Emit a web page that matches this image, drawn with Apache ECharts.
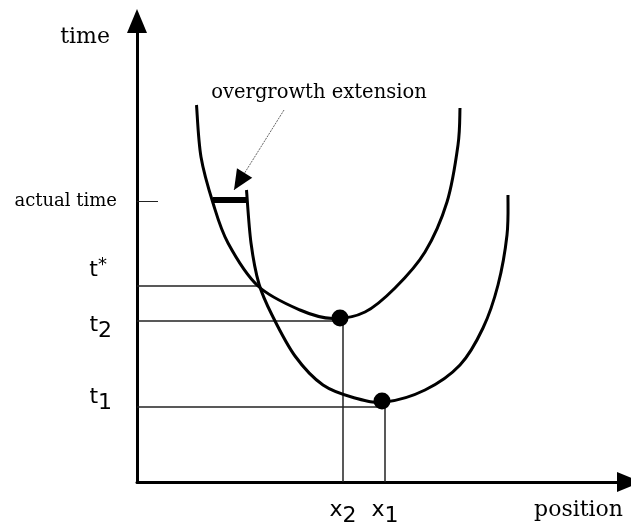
<!DOCTYPE html>
<html><head><meta charset="utf-8">
<script src="https://cdn.jsdelivr.net/npm/echarts@6/dist/echarts.min.js"></script>
<style>html,body{margin:0;padding:0;background:#fff}#c{width:631px;height:524px}</style>
</head><body><div id="c"></div>
<script>
// Upper curve (minimum at x2, t2): position / time
const curve2Pos  = [11.9, 12.8, 15.2, 18.2, 24.2, 32.6, 39.2, 45.6, 51.6, 57.6, 62, 64.2, 64.6];
const curve2Time = [75.4, 65, 55.8, 47.8, 39.2, 34.4, 32.7, 34, 38.8, 46, 56, 67.4, 74.8];
// Lower curve (minimum at x1, t1)
const curve1Pos  = [21.9, 22.8, 24.4, 27, 31.6, 37.2, 43.6, 49.6, 57.6, 64.6, 69.2, 72.2, 74, 74.2];
const curve1Time = [58.4, 47.8, 39.6, 33.4, 25.2, 19.4, 16.8, 16, 18.4, 23.4, 30.8, 39.4, 49.4, 57.4];
// Minimum points (dots)
const minPos  = [40.6, 49];
const minTime = [32.8, 16.2];
// Tick labels
const yTickLabels = ['actual time', 't*', 't2', 't1'];
const yTickValues = [56.2, 39.2, 32.2, 15];
const xTickLabels = ['x2', 'x1'];
const xTickValues = [41.2, 49.6];
const tStarPos = 24.2;               // where the curves cross
// Overgrowth extension at actual time
const extensionPos = [15.2, 22];
const extensionTime = 56.4;
// Annotation
const annotationText = 'overgrowth extension';
const annotationTextAt = [36.4, 77.8];
const annotationArrowFrom = [29.4, 74.4];
const annotationArrowTo = [19.4, 58.4];

const chart = echarts.init(document.getElementById('c'), null, {renderer: 'canvas'});
const zip = (a, b) => a.map((v, i) => [v, b[i]]);
const serif = 'DejaVu Serif';
const sans = 'DejaVu Sans';
const ink = '#000';
const rich = {
  b: {fontFamily: sans, fontSize: 22, color: ink},
  sub: {fontFamily: sans, fontSize: 22, color: ink, padding: [12, 0, 0, 0]},
  sup: {fontFamily: sans, fontSize: 18, color: ink, padding: [0, 0, 10, 0]},
  w: {fontFamily: serif, fontSize: 18, color: ink}
};
function fmt(s) {
  if (s.length > 3) return '{w|' + s + '}';
  if (s[1] === '*') return '{b|' + s[0] + '}{sup|*}';
  return '{b|' + s[0] + '}{sub|' + s[1] + '}';
}
const yLabelStyle = {
  'actual time': {distance: 20, offset: [0, 0]},
  't*': {distance: 30, offset: [0, -16]},
  't2': {distance: 25, offset: [0, 4]},
  't1': {distance: 25, offset: [0, -10]}
};
const thin = {color: '#222', width: 1.5};
const opaque = {opacity: 1, color: ink};

// Smooth curve through the data points (Catmull-Rom), drawn via the axes' coordinate mapping
function curveSeries(pos, time) {
  const pts = zip(pos, time);
  return {
    type: 'custom', data: pts, encode: {x: 0, y: 1}, silent: true, z: 3,
    renderItem: function (params, api) {
      if (params.dataIndex !== 0) return null;
      const P = pts.map(p => api.coord(p));
      let d = 'M' + P[0][0] + ' ' + P[0][1];
      for (let i = 0; i < P.length - 1; i++) {
        const p0 = P[i - 1] || P[i], p1 = P[i], p2 = P[i + 1], p3 = P[i + 2] || P[i + 1];
        const c1x = p1[0] + (p2[0] - p0[0]) / 6, c1y = p1[1] + (p2[1] - p0[1]) / 6;
        const c2x = p2[0] - (p3[0] - p1[0]) / 6, c2y = p2[1] - (p3[1] - p1[1]) / 6;
        d += ' C' + c1x + ' ' + c1y + ' ' + c2x + ' ' + c2y + ' ' + p2[0] + ' ' + p2[1];
      }
      return {type: 'path', shape: {pathData: d},
              style: {fill: null, stroke: ink, lineWidth: 3, lineJoin: 'round'}};
    }
  };
}

const guideLines = [
  [[0, yTickValues[1]], [tStarPos, yTickValues[1]]],
  [[0, yTickValues[2]], [xTickValues[0], yTickValues[2]]],
  [[0, yTickValues[3]], [xTickValues[1], yTickValues[3]]],
  [[xTickValues[0], 0], [xTickValues[0], yTickValues[2]]],
  [[xTickValues[1], 0], [xTickValues[1], yTickValues[3]]]
];

const series = [];
guideLines.forEach(g => series.push({
  type: 'line', data: g, symbol: 'none', lineStyle: thin, silent: true, z: 1
}));
series.push(curveSeries(curve2Pos, curve2Time));
series.push(curveSeries(curve1Pos, curve1Time));
series.push({
  type: 'line', data: extensionPos.map(p => [p, extensionTime]), symbol: 'none',
  lineStyle: {color: ink, width: 6, cap: 'butt'}, z: 4
});
series.push({
  type: 'scatter', data: zip(minPos, minTime), symbol: 'circle', symbolSize: 17,
  itemStyle: opaque, z: 5
});
// y tick labels
series.push({
  type: 'scatter', symbolSize: 0, silent: true, z: 6, itemStyle: opaque,
  data: yTickLabels.map((s, i) => ({
    value: [0, yTickValues[i]],
    label: {show: true, position: 'left', distance: yLabelStyle[s].distance, offset: yLabelStyle[s].offset,
            formatter: fmt(s), rich: rich, opacity: 1}
  }))
});
// x tick labels
series.push({
  type: 'scatter', symbolSize: 0, silent: true, z: 6, itemStyle: opaque,
  data: xTickLabels.map((s, i) => ({
    value: [xTickValues[i], 0],
    label: {show: true, position: 'bottom', distance: 11, formatter: fmt(s), rich: rich, opacity: 1}
  }))
});
// annotation
series.push({
  type: 'scatter', symbolSize: 0, silent: true, z: 6, itemStyle: opaque,
  data: [{value: annotationTextAt, label: {show: true, position: 'inside', formatter: annotationText,
          fontFamily: serif, fontSize: 19.5, color: ink, opacity: 1}}],
  markLine: {
    silent: true, symbol: ['none', 'triangle'], symbolSize: [18, 20], symbolOffset: [0, [0, 10]],
    label: {show: false},
    data: [
      [{coord: annotationArrowFrom, symbol: 'none', lineStyle: {color: '#666', width: 1, type: [2, 1]}},
       {coord: annotationArrowTo, symbol: 'none'}],
      [{coord: annotationArrowFrom, lineStyle: {color: ink, width: 0, opacity: 1}},
       {coord: annotationArrowTo}]
    ]
  }
});

chart.setOption({
  animation: false,
  backgroundColor: '#fff',
  grid: {left: 137, right: 2, top: 21, bottom: 42, containLabel: false, outerBoundsMode: 'none'},
  xAxis: {
    type: 'value', min: 0, max: 98.4,
    axisLine: {show: true, onZero: false, symbol: ['none', 'triangle'], symbolSize: [20, 24],
               lineStyle: {color: ink, width: 3}},
    axisTick: {show: false}, axisLabel: {show: false}, splitLine: {show: false},
    name: 'position', nameLocation: 'end', nameGap: -6,
    nameTextStyle: {fontFamily: serif, fontSize: 22, color: ink, align: 'right', verticalAlign: 'top',
                    lineHeight: 24, padding: [16, 0, 0, 0]}
  },
  yAxis: {
    type: 'value', min: 0, max: 92.2,
    axisLine: {show: true, onZero: false, symbol: ['none', 'triangle'], symbolSize: [20, 24],
               lineStyle: {color: ink, width: 3}},
    axisTick: {show: true, inside: true, length: 21, customValues: [yTickValues[0]],
               lineStyle: {color: '#222', width: 1}},
    axisLabel: {show: false}, splitLine: {show: false},
    name: 'time', nameLocation: 'end', nameGap: -16,
    nameTextStyle: {fontFamily: serif, fontSize: 22, color: ink, align: 'right', verticalAlign: 'middle',
                    padding: [0, 27, 0, 0]}
  },
  series: series
});
</script></body></html>
